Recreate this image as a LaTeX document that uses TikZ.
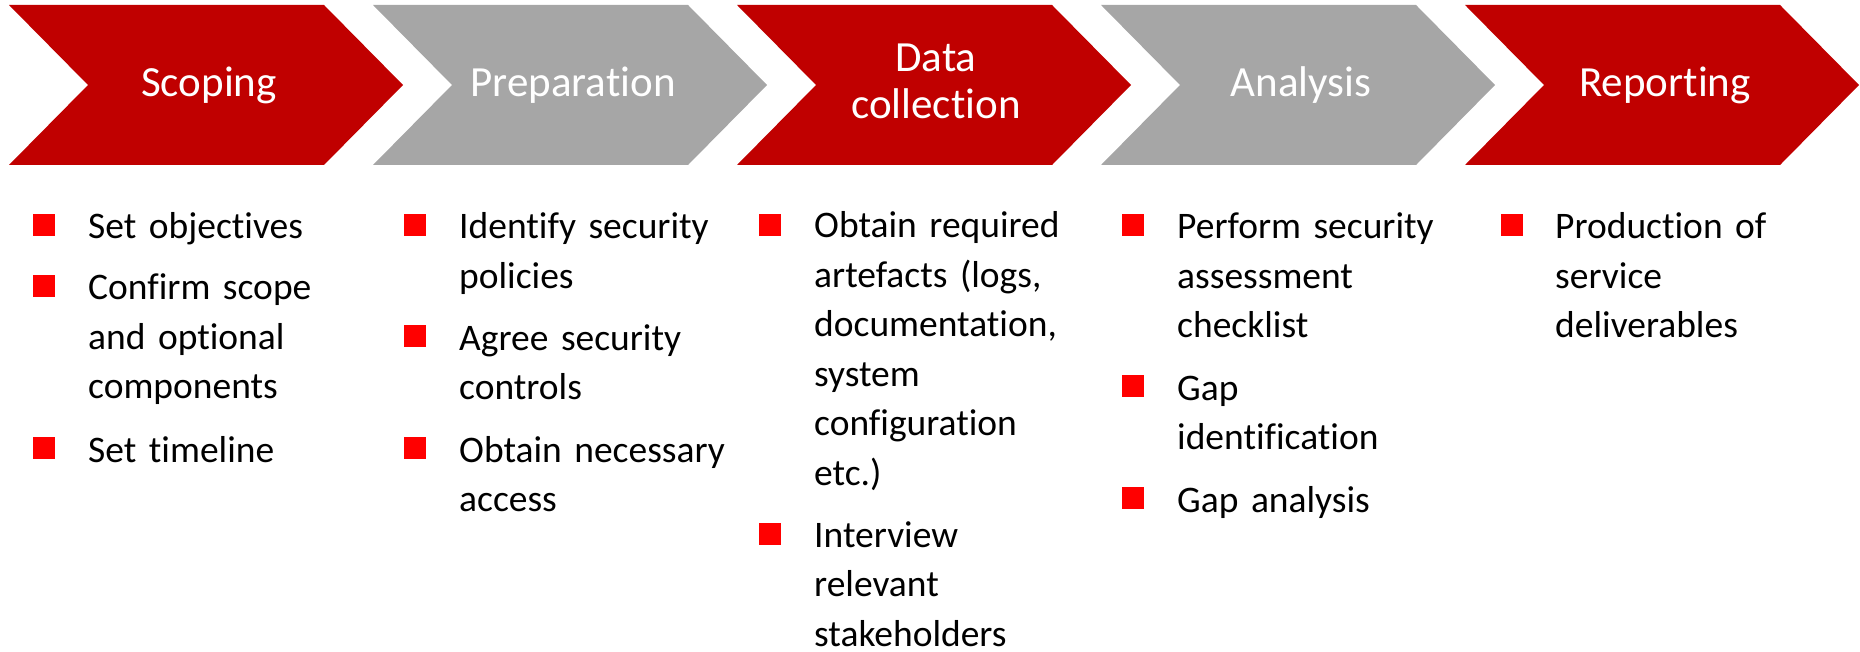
\documentclass[tikz,border=0pt]{standalone}
\usepackage{fontspec}
\setmainfont{Carlito}[RawFeature={-liga;-clig;-dlig;-calt;-hlig}]
\definecolor{chred}{HTML}{C00000}
\definecolor{chgray}{HTML}{A6A6A6}
\definecolor{bulred}{HTML}{FF0000}
\tikzset{
  redchev/.style={fill=chred},
  graychev/.style={fill=chgray},
  head/.style={text=white, font=\fontsize{43}{47}\selectfont, inner sep=0pt, align=center, anchor=base},
  item/.style={text=black, font=\fontsize{37.5}{49.5}\selectfont, inner sep=0pt, text width=330pt, align=left, anchor=base west},
  bul/.style={fill=bulred, minimum width=22pt, minimum height=22pt, inner sep=0pt, anchor=south west},
}
\newcommand{\chevpath}[1]{(#1,5) -- ({#1+315},5) -- ({#1+394},85) -- ({#1+315},165) -- (#1,165) -- ({#1+79},85) -- cycle}
\begin{document}
\begin{tikzpicture}[x=1pt,y=-1pt]
\useasboundingbox (0,0) rectangle (1860,652);
% chevrons
\fill[redchev]  \chevpath{9};
\fill[graychev] \chevpath{373};
\fill[redchev]  \chevpath{737};
\fill[graychev] \chevpath{1101};
\fill[redchev]  \chevpath{1465};
% headings
\node[head] (h1) at (209,97) {Scoping};
\node[head] (h2) at (573,97) {Preparation};
\node[head] (h3a) at (936,72) {Data};
\node[head] (h3b) at (936,119) {collection};
\node[head] (h4) at (1301,97) {Analysis};
\node[head] (h5) at (1665,97) {Reporting};
% column 1
\node[bul] (b11) at (33,236) {};
\node[item] (t11) at (88,239) {Set objectives};
\node[bul] (b12) at (33,297) {};
\node[item] (t12) at (88,300) {Confirm scope\\and optional\\components};
\node[bul] (b13) at (33,459) {};
\node[item] (t13) at (88,462) {Set timeline};
% column 2
\node[bul] (b21) at (404,236) {};
\node[item] (t21) at (459,239) {Identify security\\policies};
\node[bul] (b22) at (404,347) {};
\node[item] (t22) at (459,350) {Agree security\\controls};
\node[bul] (b23) at (404,459) {};
\node[item] (t23) at (459,462) {Obtain necessary\\access};
% column 3
\node[bul] (b31) at (759,236) {};
\node[item] (t31) at (814,238) {Obtain required\\artefacts (logs,\\documentation,\\system\\configuration\\etc.)};
\node[bul] (b32) at (759,545) {};
\node[item] (t32) at (814,547) {Interview\\relevant\\stakeholders};
% column 4
\node[bul] (b41) at (1122,236) {};
\node[item] (t41) at (1177,239) {Perform security\\assessment\\checklist};
\node[bul] (b42) at (1122,397) {};
\node[item] (t42) at (1177,400) {Gap\\identification};
\node[bul] (b43) at (1122,509) {};
\node[item] (t43) at (1177,512) {Gap analysis};
% column 5
\node[bul] (b51) at (1501,236) {};
\node[item] (t51) at (1555,239) {Production of\\service\\deliverables};
\end{tikzpicture}
\end{document}
